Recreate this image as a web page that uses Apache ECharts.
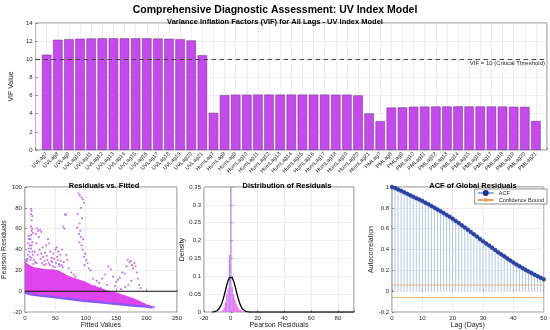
<!DOCTYPE html>
<html><head><meta charset="utf-8">
<script src="https://cdn.jsdelivr.net/npm/echarts@6/dist/echarts.min.js"></script>
<style>html,body{margin:0;padding:0;background:#fff}#c{width:550px;height:330px}</style>
</head><body><div id="c"></div>
<script>
// ---------- DATA ----------
const vifCategories = [
  'UVLag7','UVLag8','UVLag9','UVLag10','UVLag11','UVLag12','UVLag13','UVLag14','UVLag15','UVLag16','UVLag17','UVLag18','UVLag19','UVLag20','UVLag21',
  'HumLag7','HumLag8','HumLag9','HumLag10','HumLag11','HumLag12','HumLag13','HumLag14','HumLag15','HumLag16','HumLag17','HumLag18','HumLag19','HumLag20','HumLag21',
  'PMLag7','PMLag8','PMLag9','PMLag10','PMLag11','PMLag12','PMLag13','PMLag14','PMLag15','PMLag16','PMLag17','PMLag18','PMLag19','PMLag20','PMLag21'
];
const vifValues = [
  10.5,12.15,12.22,12.27,12.29,12.31,12.31,12.31,12.31,12.31,12.28,12.26,12.22,12.08,10.45,
  4.1,6.05,6.1,6.1,6.11,6.11,6.11,6.11,6.11,6.11,6.11,6.1,6.1,6.02,4.03,
  3.18,4.68,4.7,4.77,4.79,4.8,4.8,4.81,4.8,4.8,4.8,4.79,4.77,4.76,3.2
];
const vifThreshold = 10;

// Residuals vs fitted: dense cloud envelope
const denseUpperX = [0,3,8,15,25,35,45,55,62,70,80,90,100,110,120,135,150,165,180,195,210];
const denseUpperY = [27,27,25,23,22,21,21,20,18,15,13,11,9,6,4,1,-1,-4,-7,-11,-15];
const denseLowerX = [210,200,180,160,140,120,100,80,60,40,25,12,5,0];
const denseLowerY = [-15.5,-14.7,-13.8,-12.8,-11.5,-10.3,-9.3,-8,-6.5,-5,-4.2,-3.2,-2.2,-1];
// sparse outlying residuals [fitted, residual]
const outlierPoints = [
  [10,79],[11,77],[10,74],[12,72],[11,68],[10,62],[12,60],[11,58],[13,56],[10,54],[9,50],[12,47],[11,44],[10,41],[12,38],[13,35],[11,32],[9,30],
  [6,53],[7,50],[5,46],[8,44],[6,41],[7,38],[5,35],[4,31],[3,29],[8,33],[1,28],[2,30],
  [20,60],[22,58],[25,59],[27,57],[18,55],[23,52],[19,46],[24,40],[21,35],
  [38,50],[40,46],[42,38],[36,34],[44,32],[47,36],[50,40],[52,42],[55,38],[58,35],[45,28],
  [63,62],[65,60],[66,74],[67,73],[61,40],[68,35],[70,30],[64,28],[72,22],[76,18],[80,16],[83,14],
  [15,30],[17,28],[26,31],[28,27],[30,33],[32,29],[34,26],[37,30],[39,27],[41,25],[43,29],[46,24],[48,31],[51,27],[53,33],[56,26],[59,29],[57,24],[60,25],[62,23],[14,26],[16,38],[29,42],[33,37],[35,44],[27,36],[31,25],[19,27],[49,23],[54,30],
  [88,94],[90,92],[93,90],[95,88],[97,85],[92,80],[87,74],[94,70],[90,65],[86,61],[91,58],[89,55],[92,52],[96,50],[90,47],[93,44],[95,40],[99,36],[97,33],[101,30],[103,27],[98,25],[105,22],[108,20],
  [112,12],[118,10],[122,8],[127,12],[132,16],[137,24],[141,21],[145,14],[150,9],[153,11],[156,13],[160,18],[164,17],[167,24],[169,30],[172,28],[174,29],[176,25],[178,22],[180,27],[182,24],[184,18],[186,12],[188,6],[190,3],[175,10],[170,6],[165,4],[158,2],[148,5],[135,6],[125,3],[115,5],[140,-3],[155,-6],[175,-9],[195,-12],[205,-14],[212,-15]
];

// Distribution of residuals
const histCenters = [-6,-5,-4,-3,-2,-1,0,1,2,3,4,5,6,7,8,9,10];
const histDensity = [0.005,0.012,0.028,0.05,0.066,0.16,0.35,0.07,0.05,0.036,0.024,0.015,0.009,0.006,0.004,0.002,0.001];
const histBinWidth = 1;
const normalX = [-14,-12,-11,-10,-9,-8,-7,-6,-5,-4,-3,-2,-1,0,1,2,3,4,5,6,7,8,9,10,11,12,14,20,40,60,80,92];
const normalY = [0.0002,0.0011,0.0023,0.0044,0.0079,0.0135,0.0216,0.0324,0.0457,0.0605,0.0753,0.088,0.0967,0.0997,0.0967,0.088,0.0753,0.0605,0.0457,0.0324,0.0216,0.0135,0.0079,0.0044,0.0023,0.0011,0.0002,0,0,0,0,0];

// ACF
const acfLags = [0,1,2,3,4,5,6,7,8,9,10,11,12,13,14,15,16,17,18,19,20,21,22,23,24,25,26,27,28,29,30,31,32,33,34,35,36,37,38,39,40,41,42,43,44,45,46,47,48,49,50];
const acfValues = [1.000,0.990,0.977,0.963,0.949,0.935,0.921,0.907,0.893,0.879,0.865,0.850,0.834,0.818,0.802,0.785,0.768,0.750,0.732,0.714,0.695,0.675,0.654,0.633,0.612,0.590,0.568,0.546,0.524,0.502,0.480,0.459,0.438,0.417,0.396,0.375,0.355,0.335,0.315,0.295,0.275,0.257,0.240,0.223,0.206,0.190,0.174,0.159,0.144,0.129,0.115];
const acfBound = 0.06;

// ---------- CHART ----------
const FONT = 'Liberation Sans';
const chart = echarts.init(document.getElementById('c'), null, {renderer:'canvas'});
const gridBox = {show:true, borderColor:'#262626', borderWidth:0.6, backgroundColor:'#fff'};
const labelStyle = {fontSize:6, color:'#262626', fontFamily:FONT};
const nameStyle = {fontSize:7, color:'#262626', fontFamily:FONT};
const split = {show:true, lineStyle:{color:'#e3e3e3', width:0.6}};
const tick = {show:true, inside:true, length:2, lineStyle:{color:'#262626', width:0.5}};

function valAxis(o) {
  return Object.assign({type:'value', axisLine:{show:false}, axisTick:tick, splitLine:split,
    axisLabel:Object.assign({margin:3}, labelStyle), nameTextStyle:nameStyle, nameLocation:'middle'}, o);
}

const topCats = [''].concat(vifCategories).concat(['']);
const topVals = ['-'].concat(vifValues).concat(['-']);

const option = {
  animation:false,
  textStyle:{fontFamily:FONT},
  title:[
    {text:'Comprehensive Diagnostic Assessment: UV Index Model', left:'center', top:0,
     textStyle:{fontSize:10.5, fontWeight:'bold', color:'#000', fontFamily:FONT}},
    {text:'Variance Inflation Factors (VIF) for All Lags - UV Index Model', left:'center', top:13,
     textStyle:{fontSize:7.5, fontWeight:'bold', color:'#000', fontFamily:FONT}},
    {text:'Residuals vs. Fitted', left:99, textAlign:'center', top:177,
     textStyle:{fontSize:7.5, fontWeight:'bold', color:'#000', fontFamily:FONT}},
    {text:'Distribution of Residuals', left:282, textAlign:'center', top:177,
     textStyle:{fontSize:7.5, fontWeight:'bold', color:'#000', fontFamily:FONT}},
    {text:'ACF of Global Residuals', left:468, textAlign:'center', top:177,
     textStyle:{fontSize:7.5, fontWeight:'bold', color:'#000', fontFamily:FONT}}
  ],
  legend:{
    data:['ACF','Confidence Bound'], orient:'vertical', right:3, top:189,
    itemWidth:16, itemHeight:5, itemGap:1, padding:[1,3,1,2],
    borderColor:'#262626', borderWidth:0.5, backgroundColor:'#fff',
    textStyle:{fontSize:5.5, color:'#262626', fontFamily:FONT}
  },
  grid:[
    Object.assign({left:23, right:3, top:23, height:127}, gridBox),
    Object.assign({left:21, width:156, top:187, height:126}, gridBox),
    Object.assign({left:204, width:150, top:187, height:126}, gridBox),
    Object.assign({left:392, width:155, top:187, height:126}, gridBox)
  ],
  xAxis:[
    {type:'category', gridIndex:0, data:topCats, boundaryGap:false,
     axisLine:{show:false}, axisTick:{show:true, inside:true, length:2, interval:0, lineStyle:{color:'#262626', width:0.5}},
     splitLine:{show:true, interval:0, lineStyle:{color:'#e3e3e3', width:0.6}},
     axisLabel:Object.assign({rotate:45, interval:0, margin:3}, labelStyle, {fontSize:5.5})},
    valAxis({gridIndex:1, min:0, max:250, interval:50, name:'Fitted Values', nameGap:9}),
    valAxis({gridIndex:2, min:-20, max:92, interval:20, name:'Pearson Residuals', nameGap:9,
      axisLabel:Object.assign({margin:3, formatter:v => (v % 20 === 0 ? String(v) : '')}, labelStyle)}),
    valAxis({gridIndex:3, min:0, max:50, interval:10, name:'Lag (Days)', nameGap:9})
  ],
  yAxis:[
    valAxis({gridIndex:0, min:0, max:14, interval:2, name:'VIF Value', nameGap:12}),
    valAxis({gridIndex:1, min:-20, max:100, interval:20, name:'Pearson Residuals', nameGap:12}),
    valAxis({gridIndex:2, min:0, max:0.35, interval:0.05, name:'Density', nameGap:16}),
    valAxis({gridIndex:3, min:-0.2, max:1, interval:0.2, name:'Autocorrelation', nameGap:16})
  ],
  series:[
    {type:'bar', name:'VIF', xAxisIndex:0, yAxisIndex:0, data:topVals, barWidth:9.5,
     itemStyle:{color:'#c848f0', borderColor:'#5a3a70', borderWidth:0.5},
     markLine:{silent:true, symbol:'none', data:[{yAxis:vifThreshold}],
       lineStyle:{color:'#444', width:1.1, type:[4.5,3.5]},
       label:{show:true, position:'insideEndBottom', formatter:'VIF = 10 (Critical Threshold)',
         fontSize:6, color:'#262626', fontFamily:FONT, distance:[2,1]}}},
    // dense residual cloud
    {type:'custom', xAxisIndex:1, yAxisIndex:1, data:[[0,0]], silent:true, z:2,
     renderItem:(params, api) => {
       const pts = denseUpperX.map((x,i) => api.coord([x, denseUpperY[i]]))
         .concat(denseLowerX.map((x,i) => api.coord([x, denseLowerY[i]])));
       return {type:'polygon', shape:{points:pts}, style:{fill:'#e044ec'}};
     }},
    {type:'line', xAxisIndex:1, yAxisIndex:1, silent:true, symbol:'none', z:3,
     data:denseLowerX.map((x,i)=>[x, denseLowerY[i]]),
     lineStyle:{color:'#8a58f2', width:2.5}},
    {type:'scatter', xAxisIndex:1, yAxisIndex:1, data:outlierPoints, symbolSize:2.2, z:4,
     itemStyle:{color:p => (p.dataIndex % 2 ? '#9a5cf2' : '#e64ae8')}},
    {type:'line', xAxisIndex:1, yAxisIndex:1, silent:true, symbol:'none', z:5,
     data:[[0,0],[250,0]], lineStyle:{color:'#111', width:1}},
    // histogram
    {type:'custom', xAxisIndex:2, yAxisIndex:2, silent:true, z:2,
     data:histCenters.map((c,i)=>[c, histDensity[i]]),
     renderItem:(params, api) => {
       const c = api.value(0), h = api.value(1);
       const p0 = api.coord([c - histBinWidth/2, 0]);
       const p1 = api.coord([c + histBinWidth/2, h]);
       return {type:'rect', shape:{x:p0[0], y:p1[1], width:p1[0]-p0[0], height:p0[1]-p1[1]},
         style:{fill: h > 0.1 ? '#b98ef2' : '#ee6cf0'}};
     }},
    {type:'line', xAxisIndex:2, yAxisIndex:2, silent:true, symbol:'none', z:3,
     data:normalX.map((x,i)=>[x, normalY[i]]), lineStyle:{color:'#000', width:1.3}},
    // ACF stems
    {type:'custom', xAxisIndex:3, yAxisIndex:3, silent:true, z:2,
     data:acfLags.map((l,i)=>[l, acfValues[i]]),
     renderItem:(params, api) => {
       const a = api.coord([api.value(0), 0]);
       const b = api.coord([api.value(0), api.value(1)]);
       return {type:'line', shape:{x1:a[0], y1:a[1], x2:b[0], y2:b[1]},
         style:{stroke:'#8fb0da', lineWidth:0.7}};
     }},
    {type:'line', name:'Confidence Bound', xAxisIndex:3, yAxisIndex:3, symbol:'none', z:3,
     data:[[0, acfBound],[50, acfBound]], lineStyle:{color:'#e8a45a', width:0.8}, itemStyle:{color:'#e8a45a'}},
    {type:'line', name:'Confidence Bound', xAxisIndex:3, yAxisIndex:3, symbol:'none', z:3,
     data:[[0, -acfBound],[50, -acfBound]], lineStyle:{color:'#e8a45a', width:0.8}, itemStyle:{color:'#e8a45a'}},
    {type:'line', name:'ACF', xAxisIndex:3, yAxisIndex:3, symbol:'circle', symbolSize:4, z:4,
     data:acfLags.map((l,i)=>[l, acfValues[i]]),
     lineStyle:{color:'#8fb0da', width:0.6},
     itemStyle:{color:'#2a44a8', borderColor:'#1c2f85', borderWidth:0.4}}
  ]
};
chart.setOption(option);
</script>
</body></html>
